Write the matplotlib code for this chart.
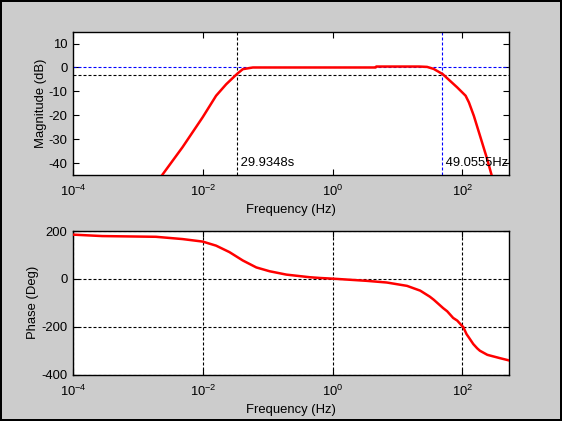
import numpy as np
import matplotlib
matplotlib.use("Agg")
import matplotlib.pyplot as plt
from matplotlib.ticker import FixedLocator, FuncFormatter, NullLocator

# Estilo parecido a MATLAB
plt.rcParams['font.family'] = ['Liberation Sans', 'DejaVu Sans']
plt.rcParams['mathtext.fontset'] = 'custom'
plt.rcParams['mathtext.rm'] = 'Liberation Sans'
plt.rcParams['axes.unicode_minus'] = False

# Datos: magnitud
freq_mag = [0.00235, 0.00486, 0.00993, 0.0160, 0.0229, 0.0333, 0.0413, 0.059,
            0.5, 4.6, 4.7, 21.5, 28.5, 36.1, 49.8, 83, 112, 126, 150, 190, 236, 280]
mag_db = [-45, -33.3, -20.8, -11.8, -7.0, -2.8, -0.7, 0,
          0, 0, 0.4, 0.4, 0.25, -0.6, -2.8, -8.3, -11.8, -14.6, -20.2, -29.2, -37.5, -44.7]

# Datos: fase
freq_fase = [1e-4, 2.81e-4, 1.89e-3, 4.86e-3, 9.93e-3, 0.016, 0.0257, 0.0413, 0.0667,
             0.107, 0.194, 0.446, 0.635, 1.02, 3.36, 6.85, 14.0, 22.4, 31.4, 36.2,
             50.5, 58.2, 72, 83.2, 97, 103, 116, 126, 147, 169, 186, 242, 266,
             380, 515]
fase_deg = [185, 179, 176, 166.5, 156, 139, 112, 77, 48,
            32, 18, 7, 4, 1, -8, -15, -29, -49, -74, -87,
            -122, -135, -163, -174, -194, -201, -231, -245, -272, -290, -300, -317, -320,
            -331, -340]

# Frecuencias de corte marcadas
tiempo_bajo = 29.9348      # s
f_alto = 49.0555           # Hz
f_bajo = 1 / tiempo_bajo

xlim = (1e-4, 515)
decadas = [1e-4, 1e-2, 1e0, 1e2]
fs = 9.4

def fmt_log(v, pos):
    return r'$10^{%d}$' % int(round(np.log10(v)))

fig = plt.figure(figsize=(5.62, 4.21), dpi=100)
fig.patch.set_facecolor('#cccccc')
fig.patch.set_edgecolor('black')
fig.patch.set_linewidth(1.5)

ax1 = fig.add_axes([0.13, 0.5838, 0.775, 0.3412])
ax2 = fig.add_axes([0.13, 0.11, 0.775, 0.3412])

for ax in (ax1, ax2):
    ax.set_xscale('log')
    ax.set_xlim(*xlim)
    ax.xaxis.set_major_locator(FixedLocator(decadas))
    ax.xaxis.set_minor_locator(NullLocator())
    ax.xaxis.set_major_formatter(FuncFormatter(fmt_log))
    ax.tick_params(direction='in', length=4, width=0.8, top=True, right=True,
                   labelsize=fs, colors='black', pad=4)
    ax.tick_params(axis='x', pad=6.5)
    for s in ax.spines.values():
        s.set_linewidth(1.0)
    ax.set_xlabel('Frequency (Hz)', fontsize=fs, labelpad=3.5)

# [1] Magnitud
dash = (0, (2.7, 1.8))
ax1.plot(freq_mag, mag_db, color='red', lw=1.8, zorder=3)
ax1.axhline(0, color='blue', lw=0.8, ls=dash, zorder=2)
ax1.axvline(f_alto, color='blue', lw=0.8, ls=dash, zorder=2)
ax1.axhline(-3, color='black', lw=0.8, ls=dash, zorder=2)
ax1.axvline(f_bajo, color='black', lw=0.8, ls=dash, zorder=2)
ax1.text(f_bajo, -40, ' %.4fs' % tiempo_bajo, ha='left', va='center', fontsize=fs)
ax1.text(f_alto, -40, ' %.4fHz' % f_alto, ha='left', va='center', fontsize=fs)
ax1.set_ylim(-45, 15)
ax1.set_yticks([-40, -30, -20, -10, 0, 10])
ax1.set_ylabel('Magnitude (dB)', fontsize=fs, labelpad=1.5)

# [2] Fase
ax2.plot(freq_fase, fase_deg, color='red', lw=1.8, zorder=3)
ax2.set_ylim(-400, 200)
ax2.set_yticks([-400, -200, 0, 200])
ax2.grid(True, color='black', lw=0.8, ls=dash)
ax2.set_ylabel('Phase (Deg)', fontsize=fs, labelpad=1.5)

fig.savefig('out.png', dpi=100, facecolor=fig.get_facecolor(), edgecolor='black')
